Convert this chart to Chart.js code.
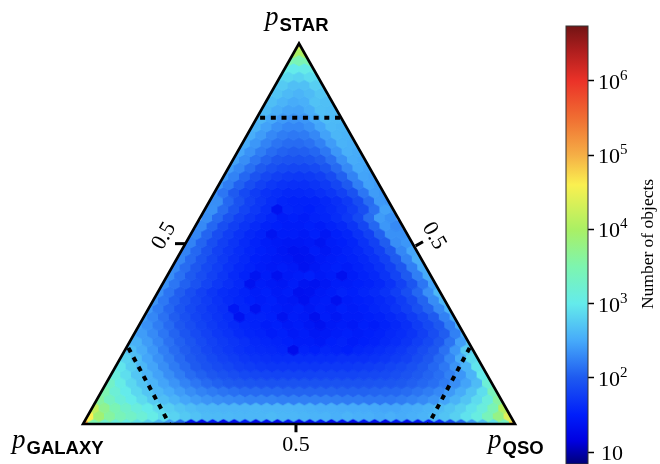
<!DOCTYPE html>
<html>
<head>
<meta charset="utf-8">
<title>Ternary hexbin</title>
<script src="https://cdn.jsdelivr.net/npm/chart.js@4"></script>
<style>
  html, body { margin: 0; padding: 0; background: #fff; }
  canvas { display: block; }
</style>
</head>
<body>
<canvas id="ternaryChart" width="660" height="464"></canvas>
<script>
// Number of objects per hexagon. row00 sits on the base, row46 on the apex.
const row00 = [150000,3000,1600,1200,1000,800,600,400,250,120,22,18,25,18,20,28,18,22,18,24,18,20,26,18,22,18,24,20,18,26,20,24,30,40,70,120,250,450,800,2000,60000];
const row01 = [40000,8000,4000,2600,2000,1500,1100,800,650,550,480,430,420,410,400,400,400,420,400,400,390,380,380,350,380,350,350,330,350,330,350,380,420,500,620,850,1200,2500,6000,25000];
const row02 = [15000,5000,2800,1800,1300,1000,750,600,500,440,400,390,380,380,380,390,380,380,380,370,360,340,340,330,320,320,310,300,300,320,340,370,430,500,620,850,1300,2800,12000];
const row03 = [4000,2200,1400,1000,750,560,450,370,300,260,230,210,200,190,180,180,180,170,170,170,170,170,165,160,160,155,155,155,165,180,200,230,290,370,500,750,1300,4000];
const row04 = [3000,1500,1000,700,520,400,320,260,210,180,160,145,135,125,125,120,120,115,115,115,115,115,112,112,112,115,118,120,130,145,165,195,250,330,480,800,2500];
const row05 = [2000,1100,700,500,380,290,230,180,150,125,110,100,95,90,88,85,85,85,85,85,85,85,85,85,88,90,92,98,108,120,135,160,210,290,430,1500];
const row06 = [1300,800,520,380,280,210,165,130,110,95,85,78,72,68,65,64,64,64,64,65,66,66,66,68,70,74,80,88,100,115,135,175,240,380,1000];
const row07 = [900,600,400,290,210,160,125,100,85,75,68,60,56,52,50,50,50,50,50,52,52,52,54,56,60,66,72,82,98,120,155,230,380,900];
const row08 = [650,450,300,220,165,125,100,85,72,62,56,50,46,44,42,42,42,42,42,42,44,44,44,46,50,56,62,76,95,125,190,330,750];
const row09 = [450,330,240,170,130,105,85,70,60,52,46,42,40,38,36,20,34,32,36,34,32,36,38,42,46,52,62,76,95,140,240,560];
const row10 = [360,360,260,190,140,110,90,74,62,54,48,44,38,36,34,32,30,30,28,32,34,30,32,34,38,42,48,58,72,95,145,270,480];
const row11 = [320,260,200,150,115,90,74,62,52,46,40,36,34,30,32,28,30,26,28,30,32,30,32,34,38,42,48,60,78,105,175,340];
const row12 = [280,220,165,125,95,78,64,54,46,40,36,34,30,32,28,30,26,23,28,30,28,32,30,34,38,44,56,72,96,165,310];
const row13 = [260,190,140,105,82,66,56,48,42,23,34,34,32,23,30,28,21,30,26,30,30,32,34,38,44,56,72,100,175,340];
const row14 = [240,165,120,90,72,60,50,44,26,36,23,32,30,28,30,26,30,28,32,30,32,36,40,48,60,82,115,195,370];
const row15 = [230,155,110,85,68,56,46,40,36,32,30,32,28,26,22,28,30,22,30,32,34,38,44,56,75,115,205,390];
const row16 = [215,145,105,80,62,50,42,38,34,30,32,28,30,22,23,28,30,34,32,36,40,46,58,80,120,215,410];
const row17 = [220,150,110,85,66,52,44,38,23,30,28,26,30,24,23,26,30,30,32,34,38,46,62,90,150,280];
const row18 = [210,140,100,78,62,50,40,34,24,30,22,28,30,32,28,30,22,30,34,38,48,65,100,170,320];
const row19 = [200,130,95,72,58,46,38,34,30,28,30,28,23,26,30,32,30,34,38,46,62,95,170,320];
const row20 = [190,125,90,68,54,44,38,32,30,28,26,23,24,28,30,32,34,38,46,62,100,180,340];
const row21 = [180,120,85,62,50,42,36,32,30,26,23,24,30,26,30,34,38,46,62,100,190,300];
const row22 = [180,115,80,60,48,40,34,30,28,26,26,28,24,30,32,36,46,62,105,210,240];
const row23 = [190,115,78,58,46,38,34,24,30,30,28,32,26,32,36,46,62,110,220,220];
const row24 = [200,120,80,60,48,40,34,32,30,30,32,30,34,38,48,68,120,240,200];
const row25 = [210,125,85,62,50,42,36,30,32,30,34,36,42,52,72,130,260,220];
const row26 = [220,220,130,90,66,52,42,23,36,34,32,36,40,46,58,80,140,280,250];
const row27 = [210,210,120,85,62,50,42,36,34,34,35,38,44,54,76,130,250,230];
const row28 = [220,150,100,72,56,46,42,38,38,40,44,50,62,85,150,260,240];
const row29 = [240,165,110,80,62,52,46,44,44,48,54,68,100,170,280,260];
const row30 = [250,180,120,88,70,60,54,52,54,60,75,110,180,290,270];
const row31 = [260,195,135,100,82,72,68,68,74,90,125,200,310,290];
const row32 = [280,210,150,115,95,88,85,90,105,140,220,330,310];
const row33 = [300,225,165,130,112,105,108,120,155,240,350,330];
const row34 = [320,240,180,145,130,128,140,175,260,370,350];
const row35 = [340,260,195,165,155,160,195,280,390,370];
const row36 = [370,280,220,190,190,220,300,410,390];
const row37 = [400,310,250,230,240,320,440,420];
const row38 = [420,340,290,280,340,460,440];
const row39 = [450,380,330,350,480,460];
const row40 = [500,420,380,430,520];
const row41 = [560,560,460,470,600,580];
const row42 = [720,720,650,760,740];
const row43 = [1100,1000,1050,1150];
const row44 = [3000,2800,3100];
const row45 = [10000,10000];
const row46 = [22000];
const hexRows = [row00,row01,row02,row03,row04,row05,row06,row07,row08,row09,row10,row11,row12,row13,row14,row15,row16,row17,row18,row19,row20,row21,row22,row23,row24,row25,row26,row27,row28,row29,row30,row31,row32,row33,row34,row35,row36,row37,row38,row39,row40,row41,row42,row43,row44,row45,row46];

// triangle outline, the p = 0.8 cuts and the 0.5 ticks, in (base fraction, height fraction)
const triangleLine = [[0,0],[1,0],[0.5,1],[0,0],[1,0]];
const starCut = [[0.41,0.805],[0.6,0.805]];
const galaxyCut = [[0.105,0.2],[0.2,0]];
const qsoCut = [[0.895,0.2],[0.8,0]];
const bottomTick = [[0.493,0],[0.493,-0.022]];
const leftTick = [[0.236,0.474],[0.213,0.474]];
const rightTick = [[0.77,0.468],[0.787,0.479]];

// colourbar
const barTicks = [10,100,1000,10000,100000,1000000];
const barBases = ['10','10','10','10','10','10'];
const barPowers = ['','2','3','4','5','6'];
const barMin = 6.9;
const barMax = 5.5e6;
const barTitle = 'Number of objects';
const midLabel = '0.5';
const cmapLogs = [0.84,1.15,1.5,2,2.5,3,3.5,4,4.6,5,5.5,6,6.4,6.74];
const cmapColors = [[0,0,120],[0,0,225],[0,30,250],[30,90,240],[70,170,250],[100,235,235],[125,245,175],[170,240,100],[250,240,80],[245,175,70],[240,110,50],[235,50,40],[175,30,30],[115,20,20]];

function colorFor(count) {
    const l = Math.log10(count);
    for (let i = 1; i < cmapLogs.length; i++) {
        if (l <= cmapLogs[i]) {
            const t = Math.max(0, (l - cmapLogs[i - 1]) / (cmapLogs[i] - cmapLogs[i - 1]));
            const a = cmapColors[i - 1], b = cmapColors[i];
            return `rgb(${Math.round(a[0] + (b[0] - a[0]) * t)},${Math.round(a[1] + (b[1] - a[1]) * t)},${Math.round(a[2] + (b[2] - a[2]) * t)})`;
        }
    }
    return 'rgb(115,20,20)';
}

// hexagon sprites, one per colour
const hexCache = {};
function hexSprite(count) {
    const color = colorFor(count);
    if (hexCache[color]) return hexCache[color];
    const c = document.createElement('canvas');
    c.width = 14;
    c.height = 14;
    const g = c.getContext('2d');
    const w = 6, h = 6.2, s = 3.1;
    g.fillStyle = color;
    g.beginPath();
    g.moveTo(7, 7 - h);
    g.lineTo(7 + w, 7 - s);
    g.lineTo(7 + w, 7 + s);
    g.lineTo(7, 7 + h);
    g.lineTo(7 - w, 7 + s);
    g.lineTo(7 - w, 7 - s);
    g.closePath();
    g.fill();
    hexCache[color] = c;
    return c;
}

const cells = [];
hexRows.forEach((row, j) => {
    const shift = j % 2 ? 0.5 : 0;
    const kMax = Math.floor(20 - j * 20 / 46 + 0.35 - shift);
    const first = -(kMax + shift);
    row.forEach((count, i) => {
        cells.push({ x: 0.5 + (first + i) / 40, y: j / 46, v: count });
    });
});

function toPoints(list) {
    return list.map(p => ({ x: p[0], y: p[1] }));
}

function lineSet(list, width, dash) {
    return {
        data: toPoints(list), showLine: true, pointRadius: 0, borderColor: '#000', borderWidth: width,
        borderDash: dash || [], borderJoinStyle: 'miter', borderCapStyle: 'butt', fill: false, order: 1, clip: false
    };
}

const ternaryPlugin = {
    id: 'ternaryPlugin',
    beforeDatasetsDraw(chart) {
        // colourbar body
        const { ctx, chartArea, scales } = chart;
        const cb = scales.cb;
        const top = cb.getPixelForValue(barMax), bottom = cb.getPixelForValue(barMin);
        const grad = ctx.createLinearGradient(0, bottom, 0, top);
        cmapLogs.forEach((l, i) => {
            const c = cmapColors[i];
            grad.addColorStop((l - cmapLogs[0]) / (cmapLogs[cmapLogs.length - 1] - cmapLogs[0]), `rgb(${c[0]},${c[1]},${c[2]})`);
        });
        ctx.save();
        ctx.fillStyle = grad;
        ctx.fillRect(566, top, chartArea.right - 566, bottom - top);
        ctx.strokeStyle = '#333';
        ctx.lineWidth = 1;
        ctx.strokeRect(566, top, chartArea.right - 566, bottom - top);
        ctx.restore();
    },
    beforeDatasetDraw(chart, args) {
        if (args.index !== 0) return;
        const { ctx, scales } = chart;
        ctx.save();
        ctx.beginPath();
        ctx.moveTo(scales.x.getPixelForValue(0), scales.y.getPixelForValue(0));
        ctx.lineTo(scales.x.getPixelForValue(1), scales.y.getPixelForValue(0));
        ctx.lineTo(scales.x.getPixelForValue(0.5), scales.y.getPixelForValue(1));
        ctx.closePath();
        ctx.clip();
    },
    afterDatasetDraw(chart, args) {
        if (args.index === 0) chart.ctx.restore();
    },
    afterDraw(chart) {
        const ctx = chart.ctx;
        const cb = chart.scales.cb;
        ctx.save();
        ctx.fillStyle = '#000';
        ctx.textBaseline = 'alphabetic';

        const pLabel = (x, y, name) => {
            ctx.textAlign = 'left';
            ctx.font = 'italic 27px "Liberation Serif"';
            ctx.fillText('p', x, y);
            ctx.font = 'bold 18.5px "Liberation Sans"';
            ctx.fillText(name, x + 14.5, y + 6);
        };
        pLabel(265, 25, 'STAR');
        pLabel(12, 448, 'GALAXY');
        pLabel(488, 448, 'QSO');

        const rotated = (text, x, y, angle, font) => {
            ctx.save();
            ctx.translate(x, y);
            ctx.rotate(angle);
            ctx.font = font;
            ctx.textAlign = 'center';
            ctx.textBaseline = 'middle';
            ctx.fillText(text, 0, 0);
            ctx.restore();
        };
        const tickFont = '22px "Liberation Serif"';
        rotated(midLabel, 296, 445, 0, tickFont);
        rotated(midLabel, 164, 236, -Math.PI / 3, tickFont);
        rotated(midLabel, 434, 236, Math.PI / 3, tickFont);
        rotated(barTitle, 648, 244, -Math.PI / 2, '17.5px "Liberation Serif"');

        // colourbar tick labels with raised powers
        ctx.textAlign = 'left';
        barTicks.forEach((v, i) => {
            const y = cb.getPixelForValue(v);
            ctx.font = tickFont;
            const x = barPowers[i] ? 598 : 601;
            ctx.fillText(barBases[i], x, y + 8);
            if (barPowers[i]) {
                ctx.font = '15px "Liberation Serif"';
                ctx.fillText(barPowers[i], x + 22, y - 1);
            }
        });
        ctx.restore();
    }
};

new Chart(document.getElementById('ternaryChart'), {
    type: 'scatter',
    data: {
        datasets: [
            {
                data: cells, order: 5, pointRadius: 6, pointBorderWidth: 0,
                pointStyle: ctx => (ctx.raw ? hexSprite(ctx.raw.v) : 'circle')
            },
            lineSet(triangleLine, 2.6),
            lineSet(starCut, 4, [5, 5.7]),
            lineSet(galaxyCut, 4, [5, 5.7]),
            lineSet(qsoCut, 4, [5, 5.7]),
            lineSet(bottomTick, 3),
            lineSet(leftTick, 3),
            lineSet(rightTick, 3)
        ]
    },
    options: {
        responsive: false,
        animation: false,
        events: [],
        layout: { autoPadding: false, padding: { top: 26, left: 0, right: 0, bottom: 0 } },
        plugins: { legend: { display: false }, tooltip: { enabled: false } },
        scales: {
            x: { type: 'linear', display: false, ticks: { display: false }, min: -83 / 432, max: 505 / 432 },
            y: { type: 'linear', display: false, ticks: { display: false }, min: -40 / 380.5, max: 398 / 380.5 },
            cb: {
                type: 'logarithmic', axis: 'y', position: 'right', min: barMin, max: barMax,
                afterBuildTicks: scale => { scale.ticks = barTicks.map(v => ({ value: v })); },
                afterFit: scale => { scale.width = 72; scale.paddingTop = 0; scale.paddingBottom = 0; },
                grid: { drawOnChartArea: false, drawTicks: true, tickLength: 6, tickWidth: 1.5, tickColor: '#000' },
                border: { display: false },
                ticks: { display: false }
            }
        }
    },
    plugins: [ternaryPlugin]
});
</script>
</body>
</html>
